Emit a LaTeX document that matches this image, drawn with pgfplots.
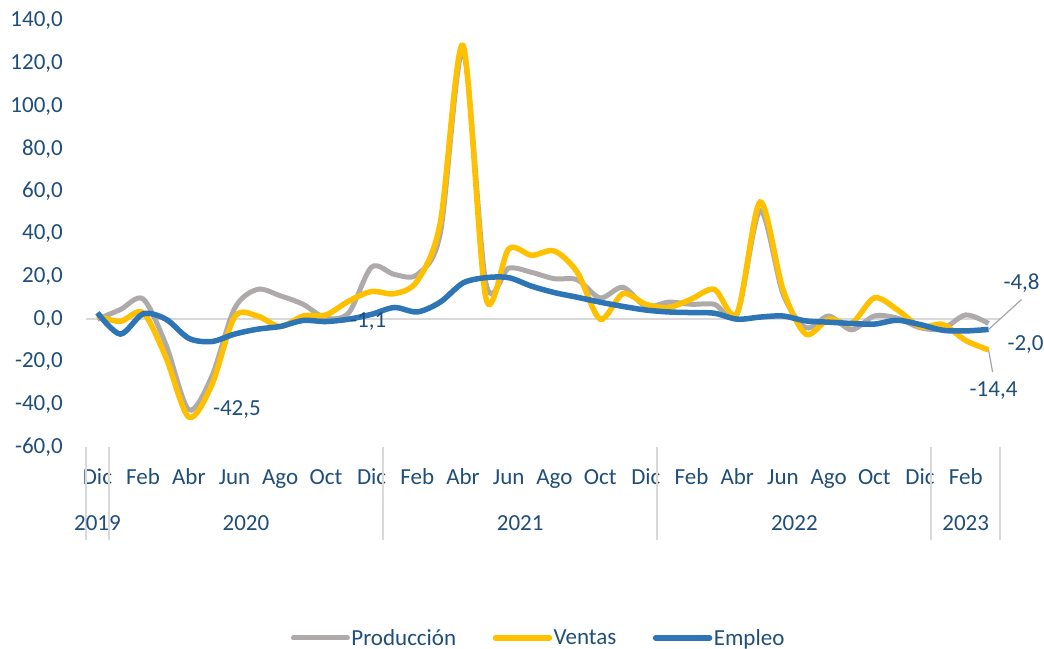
\documentclass[border=0pt]{standalone}
\usepackage{fontspec}
\setmainfont{Carlito}
\usepackage{pgfplots}
\usepackage{pgfplotstable}
\pgfplotsset{compat=1.18}
\definecolor{txt}{RGB}{31,78,121}
\definecolor{cprod}{RGB}{174,170,170}
\definecolor{cvent}{RGB}{255,192,0}
\definecolor{cemp}{RGB}{46,117,182}
\definecolor{gridc}{RGB}{217,217,217}
\definecolor{leader}{RGB}{166,166,166}

\pgfplotstableread{
i p v e
0 0.0 1.5 3.0
1 4.5 -1.0 -7.0
2 9.5 3.0 2.5
3 -12.0 -18.0 0.0
4 -42.5 -46.0 -9.0
5 -27.0 -31.0 -10.5
6 5.0 1.0 -7.0
7 14.0 1.5 -4.7
8 11.0 -3.5 -3.4
9 7.0 1.5 -0.6
10 0.5 2.0 -1.1
11 3.0 8.5 0.0
12 24.5 13.0 2.3
13 21.0 12.0 5.5
14 21.0 18.0 3.4
15 40.0 45.0 8.0
16 126.0 128.5 17.0
17 17.0 10.0 19.5
18 24.0 33.0 19.5
19 22.0 30.0 15.5
20 19.0 32.0 12.5
21 18.5 22.0 10.3
22 10.0 0.0 8.0
23 15.0 12.0 6.0
24 6.0 7.0 4.3
25 8.0 5.5 3.4
26 7.0 9.5 3.1
27 7.0 14.0 2.8
28 2.5 3.0 0.0
29 51.0 55.0 1.0
30 12.0 14.0 1.5
31 -4.0 -7.0 -0.8
32 1.5 0.0 -1.4
33 -5.0 -2.0 -2.0
34 1.5 10.0 -2.3
35 0.5 4.5 -0.5
36 -4.0 -3.5 -2.5
37 -4.5 -2.5 -5.2
38 2.0 -10.0 -5.5
39 -2.0 -14.4 -4.8
}\data

\begin{document}
\begin{tikzpicture}[font=\fontsize{23bp}{27bp}\selectfont, every node/.append style={text=txt}]
\path[use as bounding box] (0,0) rectangle (1044bp,649bp);
\begin{axis}[
  at={(86bp,202bp)}, anchor=south west,
  scale only axis, width=914bp, height=426bp,
  xmin=-0.5, xmax=39.5, ymin=-60, ymax=140,
  axis line style={draw=none},
  clip=false,
  tick pos=left,
  ytick={-60,-40,...,140},
  ytick style={draw=none},
  yticklabel style={anchor=east, inner sep=0pt, xshift=-23bp,
    /pgf/number format/.cd, fixed, fixed zerofill, precision=1, use comma, assume math mode=true},
  xtick={0,2,...,38},
  xticklabels={Dic,Feb,Abr,Jun,Ago,Oct,Dic,Feb,Abr,Jun,Ago,Oct,Dic,Feb,Abr,Jun,Ago,Oct,Dic,Feb},
  xtick style={draw=none},
  xticklabel style={anchor=base, inner sep=0pt, yshift=-38bp},
  legend columns=3,
  legend style={at={(0.495,-0.448)}, anchor=center, draw=none, fill=none,
    /tikz/every even column/.append style={column sep=35bp},
    nodes={inner sep=1.5bp, text=txt}},
  legend cell align=left,
  legend image code/.code={\draw[#1, line cap=round] (0bp,0bp) -- (54bp,0bp);},
]
\draw[gridc, line width=2bp] (axis cs:-0.5,0) -- (axis cs:39.5,0);
\foreach \s in {-0.5,0.5,12.5,24.5,36.5,39.5}{
  \edef\tmp{\noexpand\draw[gridc, line width=2bp] (axis cs:\s,-60) -- ([yshift=-93bp]axis cs:\s,-60);}
  \tmp
}
\addplot[cprod, line width=5bp, smooth, tension=0.5, no markers] table[x=i,y=p] {\data};
\addlegendentry{Producción}
\addplot[cvent, line width=5.5bp, smooth, tension=0.5, no markers] table[x=i,y=v] {\data};
\addlegendentry{Ventas}
\addplot[cemp, line width=5.5bp, smooth, tension=0.5, no markers] table[x=i,y=e] {\data};
\addlegendentry{Empleo}

\node[anchor=base, yshift=-83bp] at (axis cs:0,-60) {2019};
\node[anchor=base, yshift=-83bp] at (axis cs:6.5,-60) {2020};
\node[anchor=base, yshift=-83bp] at (axis cs:18.5,-60) {2021};
\node[anchor=base, yshift=-83bp] at (axis cs:30.5,-60) {2022};
\node[anchor=base, yshift=-83bp] at (axis cs:38,-60) {2023};

\node[anchor=west, inner sep=0pt, xshift=24bp] at (axis cs:4,-42.5) {-42,5};
\node[anchor=west, inner sep=0pt, xshift=24bp] at (axis cs:10,-1.1) {-1,1};
\draw[leader, line width=1.2bp] (axis cs:39,-4.8) -- ([xshift=33bp,yshift=30bp]axis cs:39,-4.8);
\node[inner sep=0pt, xshift=33bp, yshift=46bp] at (axis cs:39,-4.8) {-4,8};
\node[inner sep=0pt, xshift=37bp, yshift=-21bp] at (axis cs:39,-2) {-2,0};
\draw[leader, line width=1.2bp] (axis cs:39,-14.4) -- ([xshift=4bp,yshift=-22bp]axis cs:39,-14.4);
\node[inner sep=0pt, xshift=5bp, yshift=-41bp] at (axis cs:39,-14.4) {-14,4};
\end{axis}
\end{tikzpicture}
\end{document}
